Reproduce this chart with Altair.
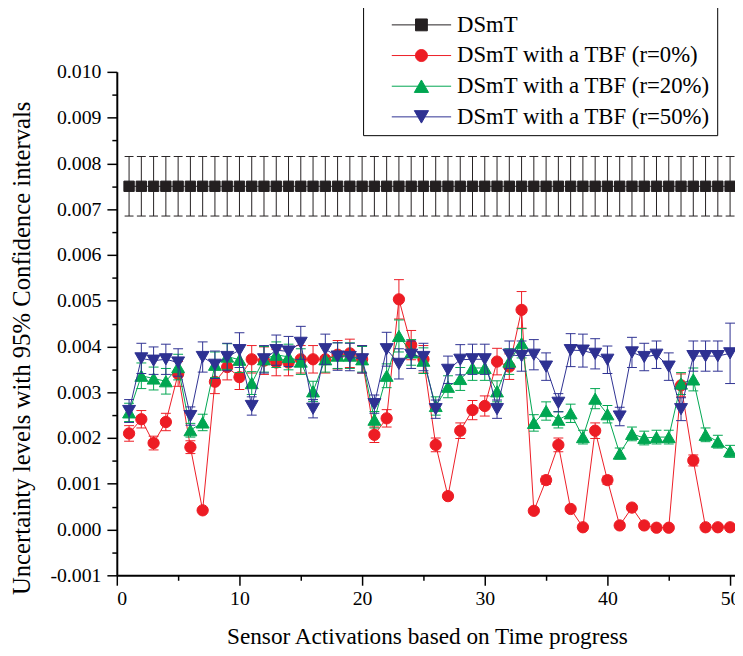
import altair as alt
import pandas as pd

# ---------------- data (values in units of 0.001) ----------------
x_vals = list(range(1, 51))
series_names = ["DSmT", "DSmT with a TBF (r=0%)", "DSmT with a TBF (r=20%)", "DSmT with a TBF (r=50%)"]

dsmt = [7.5] * 50
dsmt_err = [0.65] * 50

red = [2.10, 2.41, 1.89, 2.35, 3.40, 1.80, 0.42, 3.23, 3.55, 3.33,
       3.72, 3.69, 3.65, 3.65, 3.72, 3.72, 3.72, 3.82, 3.85, 3.72,
       2.07, 2.43, 5.03, 4.03, 3.72, 1.85, 0.73, 2.16, 2.61, 2.70,
       3.67, 3.56, 4.80, 0.41, 1.08, 1.85, 0.45, 0.05, 2.16, 1.08,
       0.09, 0.48, 0.09, 0.04, 0.04, 3.15, 1.51, 0.05, 0.05, 0.05]
red_err = [0.17, 0.19, 0.15, 0.19, 0.27, 0.14, 0.04, 0.26, 0.28, 0.27,
           0.30, 0.30, 0.29, 0.29, 0.30, 0.30, 0.30, 0.31, 0.31, 0.30,
           0.17, 0.19, 0.43, 0.32, 0.30, 0.15, 0.06, 0.17, 0.21, 0.22,
           0.29, 0.28, 0.40, 0.03, 0.09, 0.15, 0.04, 0.01, 0.17, 0.09,
           0.01, 0.04, 0.01, 0.01, 0.01, 0.25, 0.12, 0.01, 0.01, 0.01]

green = [2.56, 3.36, 3.30, 3.24, 3.55, 2.17, 2.34, 3.60, 3.78, 3.71,
         3.20, 3.72, 3.82, 3.77, 3.67, 3.02, 3.72, 3.80, 3.80, 3.72,
         2.40, 3.36, 4.23, 3.87, 3.69, 2.70, 3.12, 3.29, 3.53, 3.53,
         3.02, 3.67, 4.07, 2.33, 2.59, 2.40, 2.54, 2.02, 2.86, 2.52,
         1.66, 2.09, 2.00, 2.02, 2.02, 3.19, 3.28, 2.07, 1.92, 1.71]
green_err = [0.20, 0.28, 0.25, 0.28, 0.28, 0.15, 0.18, 0.28, 0.28, 0.28,
             0.25, 0.28, 0.28, 0.28, 0.28, 0.22, 0.28, 0.28, 0.28, 0.28,
             0.18, 0.26, 0.35, 0.28, 0.28, 0.20, 0.24, 0.25, 0.27, 0.27,
             0.23, 0.28, 0.32, 0.18, 0.20, 0.18, 0.20, 0.15, 0.22, 0.19,
             0.12, 0.15, 0.15, 0.15, 0.15, 0.24, 0.25, 0.15, 0.14, 0.13]

blue = [2.59, 3.74, 3.69, 3.72, 3.65, 2.48, 3.77, 3.60, 3.77, 3.92,
        2.70, 3.72, 3.92, 3.89, 4.08, 2.64, 3.94, 3.78, 3.77, 3.72,
        2.74, 3.94, 3.62, 3.82, 3.77, 2.63, 3.49, 3.71, 3.72, 3.72,
        2.63, 3.82, 3.79, 3.82, 3.56, 2.77, 3.92, 3.91, 3.84, 3.71,
        2.47, 3.87, 3.77, 3.82, 3.56, 2.63, 3.79, 3.79, 3.79, 3.85]
blue_err = [0.25, 0.33, 0.30, 0.33, 0.30, 0.20, 0.33, 0.30, 0.30, 0.38,
            0.20, 0.30, 0.33, 0.33, 0.36, 0.20, 0.33, 0.30, 0.30, 0.30,
            0.20, 0.37, 0.33, 0.30, 0.30, 0.20, 0.30, 0.33, 0.33, 0.33,
            0.20, 0.30, 0.33, 0.33, 0.30, 0.20, 0.36, 0.36, 0.33, 0.30,
            0.20, 0.33, 0.30, 0.30, 0.30, 0.25, 0.33, 0.33, 0.33, 0.66]

colors = ["#231F20", "#ED1C24", "#00A651", "#2E3192"]
shapes = ["square", "circle", "triangle-up", "triangle-down"]
sizes = [110, 130, 170, 170]

# legend symbols: line segment + marker (custom SVG paths, unit box)
legend_paths = [
    "M-0.433,0H0.9M0.1,-0.133H0.366V0.133H0.1Z",
    "M-0.433,0H0.9M0.368,0A0.135,0.135,0,1,1,0.098,0A0.135,0.135,0,1,1,0.368,0Z",
    "M-0.433,0H0.9M0.233,-0.14L0.393,0.14L0.073,0.14Z",
    "M-0.433,0H0.9M0.233,0.14L0.393,-0.14L0.073,-0.14Z",
]

rows = []
for name, vals, errs in zip(series_names, [dsmt, red, green, blue],
                            [dsmt_err, red_err, green_err, blue_err]):
    for xv, v, e in zip(x_vals, vals, errs):
        rows.append({"series": name, "x": xv, "y": v / 1000.0,
                     "lo": (v - e) / 1000.0, "hi": (v + e) / 1000.0})
df = pd.DataFrame(rows)

FONT = "Liberation Serif"
x_scale = alt.Scale(domain=[0, 50.4], nice=False, zero=False)
y_scale = alt.Scale(domain=[-0.001, 0.010], nice=False, zero=False)

x_ticks = list(range(0, 51, 5))
y_ticks = [round(-0.001 + 0.0005 * i, 4) for i in range(23)]

x_major = "datum.value % 10 === 0"
x_axis = alt.Axis(
    values=x_ticks,
    labelExpr=x_major + " ? datum.label : ''",
    tickSize=10,
    tickDash={"condition": {"test": x_major, "value": [50, 1]}, "value": [5, 50]},
    title="Sensor Activations based on Time progress",
    titleX=313.5, titleY=69, titleBaseline="alphabetic", titleAlign="center",
    titleFont=FONT, labelFont=FONT,
    titleFontSize=23.5, labelFontSize=20, labelPadding=3, grid=False,
)
y_major = "abs(datum.value*1000 - round(datum.value*1000)) < 0.001"
y_axis = alt.Axis(
    values=y_ticks,
    labelExpr=y_major + " ? replace(format(datum.value, '.3f'), '\u2212', '-') : ''",
    tickSize=10,
    tickDash={"condition": {"test": y_major, "value": [50, 1]}, "value": [5, 50]},
    title="Uncertainty levels with 95% Confidence intervals",
    titleX=-88, titleY=279, titleAngle=270, titleBaseline="alphabetic", titleAlign="center",
    titleFont=FONT, labelFont=FONT,
    titleFontSize=25, labelFontSize=20, labelPadding=6, grid=False,
)


def X(field):
    return alt.X(field, type="quantitative", scale=x_scale, axis=x_axis)


def Y(field):
    return alt.Y(field, type="quantitative", scale=y_scale, axis=y_axis)


base = alt.Chart(df)
layers = []
for name, col, shp, sz in zip(series_names, colors, shapes, sizes):
    b = base.transform_filter(alt.datum.series == name)
    cap = 9 if name == "DSmT" else 10
    line = b.mark_line(color=col, strokeWidth=1).encode(x=X("x"), y=Y("y"))
    rule = b.mark_rule(color=col, strokeWidth=1).encode(x=X("x"), y=Y("lo"), y2="hi:Q")
    cap_hi = b.mark_tick(color=col, thickness=1, size=cap, orient="horizontal", opacity=1).encode(
        x=X("x"), y=Y("hi"))
    cap_lo = b.mark_tick(color=col, thickness=1, size=cap, orient="horizontal", opacity=1).encode(
        x=X("x"), y=Y("lo"))
    pts = b.mark_point(shape=shp, filled=True, size=sz, color=col, opacity=1,
                       stroke=col, strokeWidth=1).encode(x=X("x"), y=Y("y"))
    layers += [line, rule, cap_hi, cap_lo, pts]

legend_obj = alt.Legend(
    title="\u00a0" * 10, titleOrient="right", titleColor="white", titleFontSize=23,
    titleFont=FONT, titlePadding=4,
    orient="none", legendX=249, legendY=-66,
    padding=3, rowPadding=0, strokeColor="black", fillColor="white",
    symbolSize=8100, symbolStrokeWidth=1, clipHeight=31,
    labelFont=FONT, labelFontSize=23, labelColor="black", labelOffset=1,
    labelLimit=0,
)
legend_layer = base.transform_filter("false").mark_point(filled=True, opacity=1).encode(
    color=alt.Color("series:N", scale=alt.Scale(domain=series_names, range=colors), legend=legend_obj),
    stroke=alt.Stroke("series:N", scale=alt.Scale(domain=series_names, range=colors), legend=legend_obj),
    shape=alt.Shape("series:N", scale=alt.Scale(domain=series_names, range=legend_paths), legend=legend_obj),
)
layers.append(legend_layer)

chart = alt.layer(*layers).properties(
    width=625, height=509,
    autosize=alt.AutoSizeParams(type="none"),
    padding={"left": 110, "top": 61, "right": 0, "bottom": 78},
    background="white",
).configure_view(stroke=None).configure_axis(
    labelFont=FONT, titleFont=FONT, labelColor="black", titleColor="black",
    titleFontWeight="normal", domainColor="black", tickColor="black",
    domainWidth=2, tickWidth=1.5,
).configure_legend(labelFont=FONT, titleFont=FONT)

chart.save("out.html", embed_options={"renderer": "svg", "actions": False})
